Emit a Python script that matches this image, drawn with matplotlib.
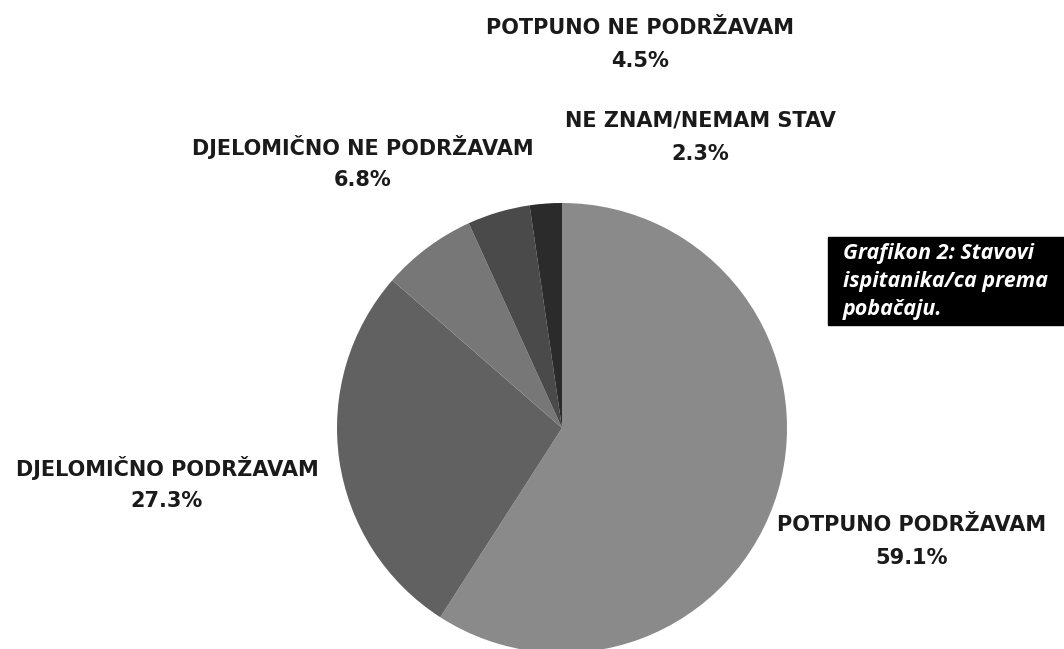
import matplotlib.pyplot as plt

# Podaci
kategorije = ['POTPUNO PODRŽAVAM', 'DJELOMIČNO PODRŽAVAM', 'DJELOMIČNO NE PODRŽAVAM',
              'POTPUNO NE PODRŽAVAM', 'NE ZNAM/NEMAM STAV']
postoci = [59.1, 27.3, 6.8, 4.5, 2.3]
boje = ['#8a8a8a', '#616161', '#777777', '#4a4a4a', '#2b2b2b']
# centri natpisa u pikselima (x, y od vrha)
pozicije = [(912, 525), (167, 468), (363, 147), (640, 28), (700, 121)]

W, H = 1064, 649
fig = plt.figure(figsize=(W / 100, H / 100), dpi=100)

# pita: centar (562, 428), radijus ~225 px
cx, cy, r = 562, 428, 225
ax = fig.add_axes([(cx - r) / W, 1 - (cy + r) / H, 2 * r / W, 2 * r / H])
ax.pie(postoci, colors=boje, startangle=90, counterclock=False,
       wedgeprops=dict(linewidth=0))
ax.set_xlim(-1, 1)
ax.set_ylim(-1, 1)
ax.set_aspect('equal')
ax.axis('off')

for kat, p, (x, y) in zip(kategorije, postoci, pozicije):
    fig.text(x / W, 1 - y / H, kat, ha='center', va='center',
             fontsize=15, fontweight='bold', family='DejaVu Sans', color='#1a1a1a')
    fig.text(x / W, 1 - (y + 33) / H, '%.1f%%' % p, ha='center', va='center',
             fontsize=15, fontweight='bold', family='DejaVu Sans', color='#1a1a1a')

# crni okvir s naslovom (odrezan desno)
okvir = plt.Rectangle((828 / W, 1 - 325 / H), 300 / W, 88 / H,
                      transform=fig.transFigure, color='black', zorder=0)
fig.patches.append(okvir)
naslov = ['Grafikon 2: Stavovi', 'ispitanika/ca prema', 'pobačaju.']
for i, red in enumerate(naslov):
    fig.text(843 / W, 1 - (254 + i * 28) / H, red, ha='left', va='center',
             fontsize=15.5, fontweight='bold', style='italic', family='Open Sans',
             color='white')

fig.savefig('out.png', dpi=100)
